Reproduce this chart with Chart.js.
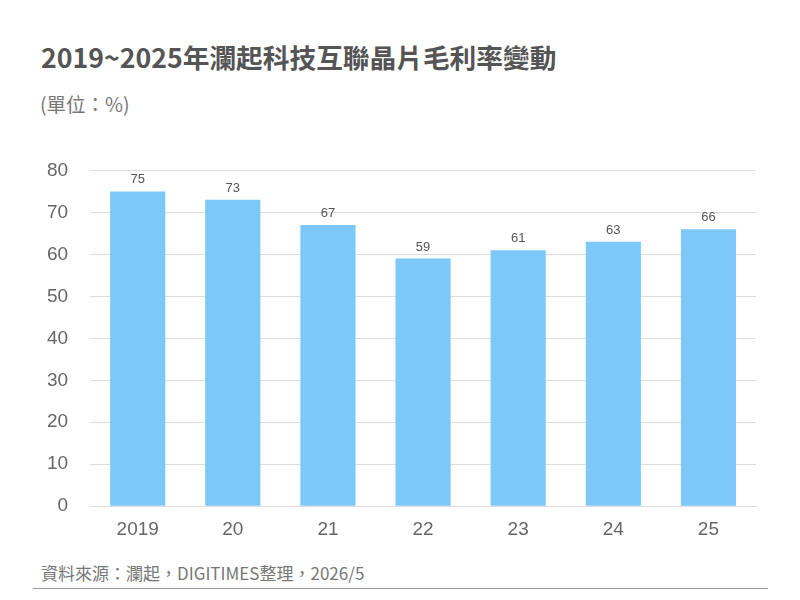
<!DOCTYPE html>
<html>
<head>
<meta charset="utf-8">
<script src="https://cdn.jsdelivr.net/npm/chart.js@4"></script>
<style>
  body { margin: 0; width: 800px; height: 600px; background: #fff; position: relative; overflow: hidden; }
  #title { position: absolute; left: 41px; top: 37px; font: bold 26.7px "Noto Sans CJK TC", sans-serif; color: #555; }
  #unit { position: absolute; left: 40px; top: 89px; font: 19.5px "Noto Sans CJK TC", sans-serif; color: #777; }
  #wrap { position: absolute; left: 0; top: 137px; width: 800px; height: 408px; }
  #source { position: absolute; left: 41px; top: 560px; font: 17px "Noto Sans CJK TC", sans-serif; color: #777; }
  #rule { position: absolute; left: 33px; top: 588px; width: 735px; height: 1px; background: #999; }
</style>
</head>
<body>
<div id="title">2019~2025年瀾起科技互聯晶片毛利率變動</div>
<div id="unit">(單位：%)</div>
<div id="wrap"><canvas id="grossMargin"></canvas></div>
<div id="source">資料來源：瀾起，DIGITIMES整理，2026/5</div>
<div id="rule"></div>
<script>
// chart data
const years = ['2019', '20', '21', '22', '23', '24', '25'];
const margins = [75, 73, 67, 59, 61, 63, 66];
const yTicks = [0, 10, 20, 30, 40, 50, 60, 70, 80];

// draw the value above each bar
const barLabels = {
    id: 'barLabels',
    afterDatasetsDraw(chart) {
        const c = chart.ctx;
        const meta = chart.getDatasetMeta(0);
        c.save();
        c.font = '13px "Liberation Sans", Arial, sans-serif';
        c.fillStyle = '#555';
        c.textAlign = 'center';
        c.textBaseline = 'bottom';
        meta.data.forEach((bar, i) => {
            c.fillText(margins[i], bar.x, bar.y - 5);
        });
        c.restore();
    }
};

const ctx = document.getElementById('grossMargin').getContext('2d');
new Chart(ctx, {
    type: 'bar',
    data: {
        labels: years,
        datasets: [{
            data: margins,
            backgroundColor: '#7cc8f8',
            categoryPercentage: 1,
            barPercentage: 0.58
        }]
    },
    options: {
        responsive: true,
        maintainAspectRatio: false,
        animation: false,
        layout: { padding: { left: 25, right: 44, top: 10, bottom: 0 } },
        plugins: {
            legend: { display: false },
            tooltip: { enabled: false }
        },
        scales: {
            x: {
                grid: { display: false },
                border: { color: '#ddd' },
                ticks: { color: '#666', padding: 4, font: { size: 19, family: '"Liberation Sans", Arial, sans-serif' } }
            },
            y: {
                min: 0,
                max: 80,
                afterBuildTicks: axis => { axis.ticks = yTicks.map(v => ({ value: v })); },
                border: { display: false },
                grid: { color: '#dedede', drawTicks: false },
                ticks: { color: '#666', padding: 22, font: { size: 19, family: '"Liberation Sans", Arial, sans-serif' } }
            }
        }
    },
    plugins: [barLabels]
});
</script>
</body>
</html>
